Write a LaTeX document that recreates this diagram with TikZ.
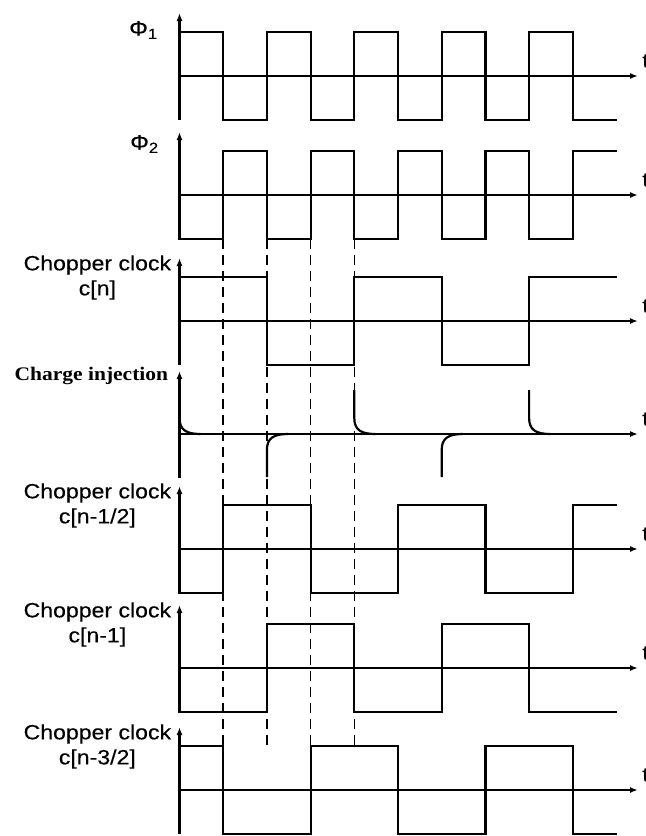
\documentclass[tikz,border=0pt]{standalone}
\usepackage{fontspec}
\setmainfont{Liberation Sans}
\newfontfamily\lblfont[FakeStretch=1.12, FakeBold=0.3]{Liberation Sans}
\newfontfamily\injfont[FakeStretch=1.12]{Liberation Serif}
\usetikzlibrary{arrows.meta, positioning, calc}
\tikzset{
    sig/.style = {line width=1.1pt, line join=miter},
    axis/.style = {line width=1.1pt, -{Latex[length=4pt, width=3pt]}},
    guide/.style = {line width=0.8pt, dash pattern=on 5pt off 3pt},
    chop/.style = {font=\lblfont\fontsize{10.3}{12.5}\selectfont, align=center, inner sep=0pt},
    phi/.style = {font=\lblfont\fontsize{10.5}{12}\selectfont, inner sep=0pt},
    inj/.style = {font=\injfont\bfseries\fontsize{9.6}{11}\selectfont, inner sep=0pt},
    tlab/.style = {font=\lblfont\fontsize{10}{12}\selectfont, inner sep=0pt, anchor=south west}
}

\begin{document}
\begin{tikzpicture}[x=0.5pt, y=-0.5pt]
    \useasboundingbox (0,0) rectangle (646,836);
    \def\xo{179.5}
    \def\half{43.7}
    \def\amp{44}
    \def\tip{638}

    \foreach \row/\ya in {p1/76, p2/195, cn/321, ci/434, ch/549, co/668, cth/790} {
        \coordinate (\row) at (\xo,\ya);
        \coordinate (\row-top) at (\xo,\ya-63);
        \coordinate (\row-bot) at (\xo,\ya+44);
        \coordinate (\row-end) at (\tip,\ya);
        \draw[axis] (\row-bot) -- (\row-top);
        \draw[axis] (\row) -- (\row-end);
        \node (t\row) [tlab] at ([shift={(4,-8)}]\row-end) {t};
    }

    \foreach \k in {1,...,4}
        \draw[guide] ($(p2)+(\k*\half,\amp)$) -- ($(cth)+(\k*\half,-\amp)$);

    \foreach \row/\lv in {p1/{1,-1,1,-1,1,-1,1,-1,1,-1},
                          p2/{-1,1,-1,1,-1,1,-1,1,-1,1},
                          cn/{1,1,-1,-1,1,1,-1,-1,1,1},
                          ch/{-1,1,1,-1,-1,1,1,-1,-1,1},
                          co/{-1,-1,1,1,-1,-1,1,1,-1,-1},
                          cth/{1,-1,-1,1,1,-1,-1,1,1,-1}} {
        \draw[sig] (\row) \foreach \l [remember=\l as \p (initially 0)] in \lv {
            -- ++(0,{(\p-(\l))*\amp}) -- ++(\half,0) };
    }

    \foreach \k in {0,4,8}
        \draw[sig] ($(ci)+(\k*\half,-\amp)$) -- ++(0,28) .. controls +(0,12) and +(-14,0) .. ++(21,16);
    \foreach \k in {2,6}
        \draw[sig] ($(ci)+(\k*\half,\amp-1)$) -- ++(0,-27) .. controls +(0,-12) and +(-14,0) .. ++(21,-16);

    \node (lp1) [phi, anchor=east] at ([shift={(-21,17)}]p1-top) {Φ\textsubscript{1}};
    \node (lp2) [phi, anchor=east] at ([shift={(-20,12)}]p2-top) {Φ\textsubscript{2}};
    \node (lcn) [chop, below left=-1.5pt and 4pt] at (cn-top) {Chopper clock\\c[n]};
    \node (lci) [inj, left=5.5pt] at ([yshift=-2.5pt]ci-top) {Charge injection};
    \node (lch) [chop, below left=-1.5pt and 4pt] at (ch-top) {Chopper clock\\c[n-1/2]};
    \node (lco) [chop, below left=-1.5pt and 4pt] at (co-top) {Chopper clock\\c[n-1]};
    \node (lcth) [chop, below left=-1.5pt and 4pt] at (cth-top) {Chopper clock\\c[n-3/2]};
\end{tikzpicture}
\end{document}
